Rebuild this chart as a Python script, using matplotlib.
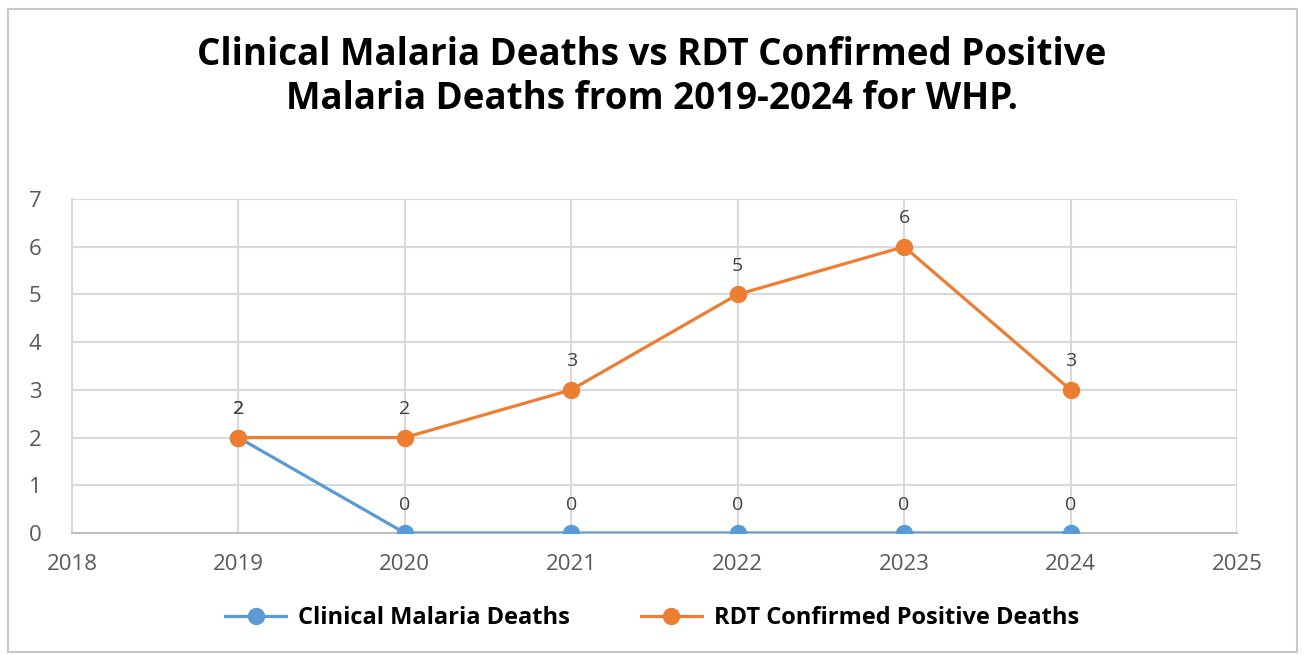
import matplotlib.pyplot as plt
from matplotlib.patches import Rectangle

years = [2019, 2020, 2021, 2022, 2023, 2024]
clinical_deaths = [2, 0, 0, 0, 0, 0]
rdt_deaths = [2, 2, 3, 5, 6, 3]

blue = '#5B9BD5'
orange = '#ED7D31'

plt.rcParams['font.family'] = ['Open Sans', 'DejaVu Sans']

fig = plt.figure(figsize=(13.04, 6.55), dpi=100)
ax = fig.add_axes([0.0552, 0.1863, 0.8934, 0.5099])

# frame around the chart area, like the spreadsheet chart box
fig.patches.append(Rectangle((0.006, 0.004), 0.989, 0.983, transform=fig.transFigure,
                             fill=False, edgecolor='#c8c8c8', linewidth=1.5))

ax.plot(years, clinical_deaths, color=blue, linewidth=2.3, marker='o', markersize=11.5,
        label='Clinical Malaria Deaths', zorder=3)
ax.plot(years, rdt_deaths, color=orange, linewidth=2.3, marker='o', markersize=11.5,
        label='RDT Confirmed Positive Deaths', zorder=4)

for x, y in zip(years, clinical_deaths):
    ax.annotate(str(y), (x, y), xytext=(0, 14), textcoords='offset points',
                ha='center', va='bottom', fontsize=14, color='#404040')
for x, y in zip(years, rdt_deaths):
    ax.annotate(str(y), (x, y), xytext=(0, 14), textcoords='offset points',
                ha='center', va='bottom', fontsize=14, color='#404040')

ax.set_xlim(2018, 2025)
ax.set_ylim(0, 7)
ax.set_xticks(range(2018, 2026))
ax.set_yticks(range(0, 8))
ax.grid(True, color='#d9d9d9', linewidth=1.5)
ax.set_axisbelow(True)
ax.tick_params(length=0, labelsize=16, labelcolor='#595959', pad=15)
ax.tick_params(axis='y', pad=22)
for side in ['top', 'right']:
    ax.spines[side].set_visible(False)
ax.spines['left'].set_color('#d9d9d9')
ax.spines['left'].set_linewidth(1.5)
ax.spines['bottom'].set_color('#bfbfbf')
ax.spines['bottom'].set_linewidth(1.5)

fig.text(0.5, 0.883, 'Clinical Malaria Deaths vs RDT Confirmed Positive\nMalaria Deaths from 2019-2024 for WHP.',
         ha='center', va='center', fontsize=26.5, fontweight='bold', linespacing=1.2)

fig.legend(loc='center', bbox_to_anchor=(0.5, 0.056), ncol=2, frameon=False,
           prop={'size': 17, 'weight': 'bold'}, handlelength=2.6, handletextpad=0.5,
           columnspacing=3.0)

fig.savefig('out.png', dpi=100, facecolor='white')
